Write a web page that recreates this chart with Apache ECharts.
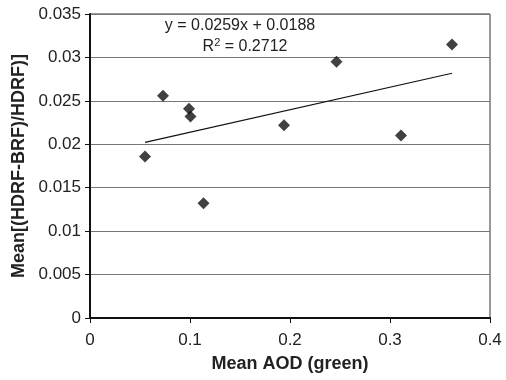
<!DOCTYPE html>
<html>
<head>
<meta charset="utf-8">
<script src="https://cdn.jsdelivr.net/npm/echarts@6/dist/echarts.min.js"></script>
<style>
    html, body { margin: 0; padding: 0; background: #fff; }
    #chart { width: 506px; height: 380px; }
</style>
</head>
<body>
<div id="chart"></div>
<script>
// data
var aod = [0.055, 0.073, 0.099, 0.1005, 0.1135, 0.194, 0.2465, 0.311, 0.362];
var ratio = [0.0186, 0.0256, 0.0241, 0.0232, 0.0132, 0.0222, 0.0295, 0.0210, 0.0315];
var slope = 0.0259;
var intercept = 0.0188;
var rSquared = '0.2712';

var chart = echarts.init(document.getElementById('chart'));

var xMin = Math.min.apply(null, aod);
var xMax = Math.max.apply(null, aod);
var trend = [
    [xMin, slope * xMin + intercept],
    [xMax, slope * xMax + intercept]
];

var font = 'Liberation Sans, Arial, sans-serif';

var option = {
    animation: false,
    grid: {
        left: 90,
        right: 16,
        top: 14,
        bottom: 62,
        show: true,
        borderColor: '#333',
        borderWidth: 1
    },
    xAxis: {
        type: 'value',
        min: 0,
        max: 0.4,
        interval: 0.1,
        name: 'Mean AOD (green)',
        nameLocation: 'middle',
        nameGap: 37,
        nameTextStyle: { fontFamily: font, fontSize: 18, fontWeight: 'bold', color: '#222' },
        axisLine: { show: true, lineStyle: { color: '#111', width: 2 } },
        axisTick: { show: true, length: 5, lineStyle: { color: '#111' } },
        axisLabel: { fontFamily: font, fontSize: 17, color: '#222', margin: 14 },
        splitLine: { show: false }
    },
    yAxis: {
        type: 'value',
        min: 0,
        max: 0.035,
        interval: 0.005,
        name: 'Mean[(HDRF-BRF)/HDRF)]',
        nameLocation: 'middle',
        nameGap: 57,
        nameTextStyle: { fontFamily: font, fontSize: 18, fontWeight: 'bold', color: '#222' },
        axisLine: { show: true, lineStyle: { color: '#111', width: 2 } },
        axisTick: { show: true, length: 5, lineStyle: { color: '#111' } },
        axisLabel: { fontFamily: font, fontSize: 17, color: '#222', margin: 9 },
        splitLine: { show: true, lineStyle: { color: '#777', width: 1 } }
    },
    series: [
        {
            type: 'line',
            data: trend,
            symbol: 'none',
            lineStyle: { color: '#111', width: 1.2 },
            z: 2
        },
        {
            type: 'scatter',
            data: aod.map(function (x, i) { return [x, ratio[i]]; }),
            symbol: 'diamond',
            symbolSize: [12, 12],
            itemStyle: { color: '#111' },
            z: 3
        }
    ],
    graphic: [
        {
            type: 'text',
            x: 240,
            y: 26,
            style: {
                text: 'y = ' + slope + 'x + ' + intercept,
                font: '16px ' + font,
                fill: '#222',
                align: 'center',
                verticalAlign: 'middle'
            }
        },
        {
            type: 'text',
            x: 245,
            y: 46,
            style: {
                text: '{a|R}{s|2}{a| = ' + rSquared + '}',
                align: 'center',
                verticalAlign: 'middle',
                rich: {
                    a: { font: '16px ' + font, fill: '#222', verticalAlign: 'bottom' },
                    s: { font: '11px ' + font, fill: '#222', verticalAlign: 'top', padding: [0, 0, 7, 0] }
                }
            }
        }
    ]
};

chart.setOption(option);
</script>
</body>
</html>
